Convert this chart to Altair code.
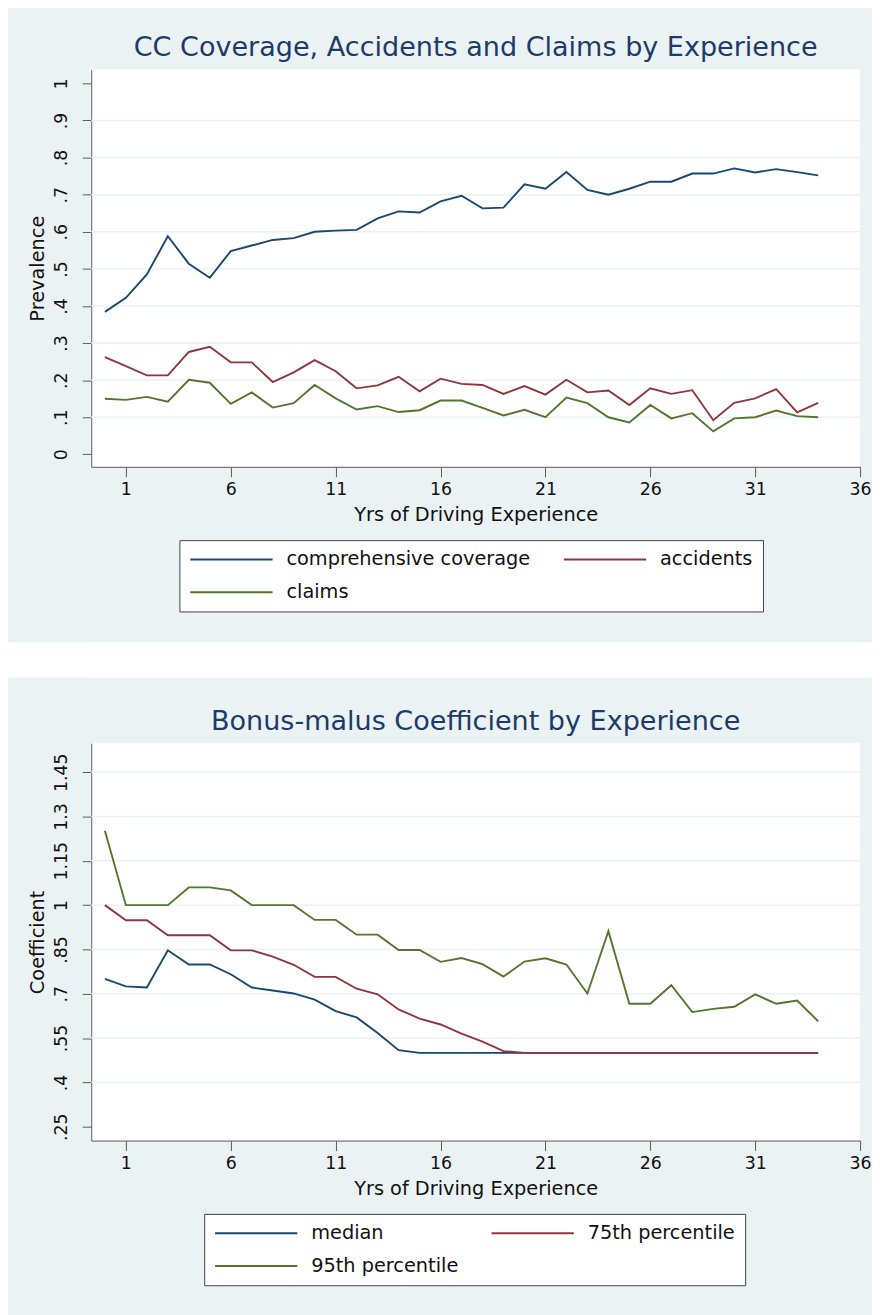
import altair as alt
import pandas as pd

# ---------------- data ----------------
years = list(range(0, 35))

coverage = [0.384, 0.422, 0.485, 0.588, 0.514, 0.476, 0.548, 0.563, 0.578, 0.583,
            0.600, 0.603, 0.605, 0.636, 0.655, 0.652, 0.682, 0.697, 0.663, 0.665,
            0.728, 0.716, 0.761, 0.713, 0.700, 0.716, 0.735, 0.735, 0.757, 0.757,
            0.771, 0.760, 0.769, 0.761, 0.752]
accidents = [0.262, 0.238, 0.213, 0.213, 0.276, 0.290, 0.248, 0.248, 0.195, 0.221,
             0.254, 0.224, 0.178, 0.186, 0.209, 0.170, 0.204, 0.190, 0.187, 0.163,
             0.184, 0.161, 0.201, 0.167, 0.172, 0.133, 0.178, 0.163, 0.173, 0.092,
             0.139, 0.151, 0.176, 0.113, 0.139]
claims = [0.150, 0.147, 0.155, 0.142, 0.201, 0.193, 0.136, 0.167, 0.126, 0.138,
          0.187, 0.151, 0.121, 0.130, 0.114, 0.119, 0.145, 0.145, 0.125, 0.105,
          0.120, 0.100, 0.153, 0.138, 0.100, 0.086, 0.133, 0.097, 0.111, 0.062,
          0.097, 0.100, 0.118, 0.103, 0.100]

median = [0.750, 0.725, 0.721, 0.847, 0.799, 0.799, 0.766, 0.721, 0.711, 0.701,
          0.680, 0.641, 0.620, 0.567, 0.509, 0.500, 0.500, 0.500, 0.500, 0.500,
          0.500, 0.500, 0.500, 0.500, 0.500, 0.500, 0.500, 0.500, 0.500, 0.500,
          0.500, 0.500, 0.500, 0.500, 0.500]
p75 = [1.000, 0.949, 0.949, 0.898, 0.898, 0.898, 0.847, 0.847, 0.826, 0.798,
       0.757, 0.757, 0.717, 0.698, 0.647, 0.616, 0.596, 0.565, 0.538, 0.506,
       0.500, 0.500, 0.500, 0.500, 0.500, 0.500, 0.500, 0.500, 0.500, 0.500,
       0.500, 0.500, 0.500, 0.500, 0.500]
p95 = [1.252, 1.000, 1.000, 1.000, 1.060, 1.060, 1.050, 1.000, 1.000, 1.000,
       0.950, 0.950, 0.900, 0.900, 0.848, 0.848, 0.808, 0.821, 0.800, 0.758,
       0.809, 0.820, 0.799, 0.701, 0.912, 0.666, 0.666, 0.729, 0.638, 0.649,
       0.656, 0.698, 0.666, 0.677, 0.607]

top_series = ["comprehensive coverage", "accidents", "claims"]
bottom_series = ["median", "75th percentile", "95th percentile"]

x_ticks = [1, 6, 11, 16, 21, 26, 31, 36]
top_y_ticks = [0, 0.1, 0.2, 0.3, 0.4, 0.5, 0.6, 0.7, 0.8, 0.9, 1]
top_y_grid = [0.1, 0.2, 0.3, 0.4, 0.5, 0.6, 0.7, 0.8, 0.9]
bot_y_ticks = [0.25, 0.4, 0.55, 0.7, 0.85, 1, 1.15, 1.3, 1.45]
bot_y_grid = [0.4, 0.55, 0.7, 0.85, 1, 1.15, 1.3, 1.45]

# ---------------- style ----------------
FONT = "DejaVu Sans"
BG = "#EAF2F3"
GRID = "#EAF2F3"
TITLE_COLOR = "#1E3A6A"
AXIS_COLOR = "#5b5b5b"
COLORS = ["#1A476F", "#90353B", "#55752F"]
PLOT_W = 776
PLOT_H = 401


def long_frame(names, arrays):
    rows = []
    for name, arr in zip(names, arrays):
        for yr, v in zip(years, arr):
            rows.append({"year": yr, "value": v, "series": name})
    return pd.DataFrame(rows)


LABEL_EXPR = ("datum.value == 0 ? '0' : (datum.value < 1 ? "
              "substring(format(datum.value, '.2~f'), 1) : format(datum.value, '.2~f'))")


def panel(df, names, ydom, yticks, ygrid, ytitle, title, legx):
    xscale = alt.Scale(domain=[-0.652, 36], nice=False, zero=False)
    yscale = alt.Scale(domain=ydom, nice=False, zero=False)
    yaxis = alt.Axis(values=yticks, labelExpr=LABEL_EXPR, labelAngle=270,
                     labelAlign="center", labelBaseline="alphabetic",
                     labelPadding=16, tickSize=9, labelFontSize=17.5,
                     title=ytitle, titleFontSize=19.5, titlePadding=5,
                     grid=False)
    xaxis = alt.Axis(values=x_ticks, format="d", tickSize=10, labelPadding=4,
                     labelFontSize=17.5, labelFlush=False,
                     title="Yrs of Driving Experience", titleFontSize=19.5,
                     titlePadding=8, grid=False)
    grid = alt.Chart(pd.DataFrame({"g": ygrid})).mark_rule(
        color=GRID, strokeWidth=1.5
    ).encode(y=alt.Y("g:Q", scale=yscale, axis=yaxis))
    lines = alt.Chart(df).mark_line(strokeWidth=1.9).encode(
        x=alt.X("year:Q", scale=xscale, axis=xaxis),
        y=alt.Y("value:Q", scale=yscale, axis=yaxis),
        color=alt.Color(
            "series:N",
            scale=alt.Scale(domain=names, range=COLORS),
            sort=names,
            legend=alt.Legend(
                orient="none", legendX=legx, legendY=475, columns=2,
                direction="horizontal",
                title=None, symbolType="stroke", symbolSize=6889,
                symbolStrokeWidth=2, labelFontSize=19.5, labelFont=FONT,
                labelColor="#111111", labelOffset=13, labelLimit=500,
                clipHeight=19, rowPadding=13, columnPadding=32, padding=10,
                fillColor="white", strokeColor="#444444", gridAlign="each",
            ),
        ),
    )
    return alt.layer(grid, lines).properties(
        width=PLOT_W, height=PLOT_H,
        title=alt.TitleParams(text=title, fontSize=27.3, font=FONT,
                              fontWeight="normal", color=TITLE_COLOR,
                              anchor="middle", frame="group", offset=8),
    )


top_df = long_frame(top_series, [coverage, accidents, claims])
bot_df = long_frame(bottom_series, [median, p75, p95])

top = panel(top_df, top_series, [-0.0336, 1.0375], top_y_ticks, top_y_grid,
            "Prevalence", "CC Coverage, Accidents and Claims by Experience", 89)
bottom = panel(bot_df, bottom_series, [0.203, 1.548], bot_y_ticks, bot_y_grid,
               "Coefficient", "Bonus-malus Coefficient by Experience", 114)

spacer = alt.Chart(pd.DataFrame({"z": [0]})).mark_rect(color="white").encode(
    x=alt.value(-84), x2=alt.value(788), y=alt.value(0), y2=alt.value(36)
).properties(width=PLOT_W, height=36)

chart = alt.vconcat(top, spacer, bottom, spacing=30).resolve_scale(
    color="independent"
).resolve_legend(color="independent").properties(
    background=BG,
    padding={"left": 0, "top": 20, "right": 0, "bottom": 25},
).configure_view(stroke=None, fill="white").configure_axis(
    domainColor=AXIS_COLOR, tickColor=AXIS_COLOR, labelColor="#111111",
    titleColor="#111111", labelFont=FONT, titleFont=FONT,
    titleFontWeight="normal", labelOverlap=False, labelBound=False,
)

chart.save("out.html", embed_options={"renderer": "svg", "actions": False})
